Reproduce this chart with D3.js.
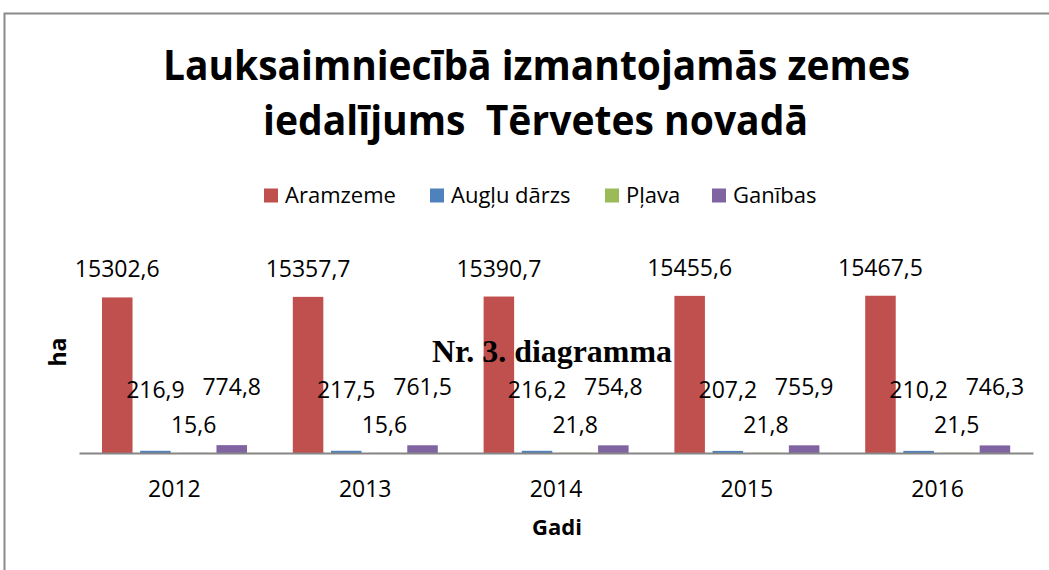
<!DOCTYPE html>
<html><head><meta charset="utf-8">
<script src="https://cdn.jsdelivr.net/npm/d3@7"></script>
<style>body{margin:0;background:#fff}svg{display:block}</style>
</head><body>
<script>
const years = ["2012","2013","2014","2015","2016"];
const seriesNames = ["Aramzeme","Augļu dārzs","Pļava","Ganības"];
const aramzeme = [15302.6,15357.7,15390.7,15455.6,15467.5];
const augluDarzs = [216.9,217.5,216.2,207.2,210.2];
const plava = [15.6,15.6,21.8,21.8,21.5];
const ganibas = [774.8,761.5,754.8,755.9,746.3];
const titleLines = ["Lauksaimniecībā izmantojamās zemes","iedalījums  Tērvetes novadā"];
const colors = ["#C0504D","#4F81BD","#9BBB59","#8064A2"];
const labelOffsets = [20, 53, 20, 50];

const W=1049,H=570;
const svg=d3.select("body").append("svg").attr("width",W).attr("height",H);
const font="'Open Sans', sans-serif";

// frame
svg.append("path").attr("d","M4.5,"+H+" V13.5 H"+W).attr("fill","none").attr("stroke","#8a8a8a").attr("stroke-width",2);

function fit(sel,target){
  const fs=parseFloat(sel.attr("font-size"));
  const w=sel.node().getComputedTextLength();
  sel.attr("font-size",fs*target/w);
}

// title
svg.append("text").attr("x",536.5).attr("y",80).attr("text-anchor","middle").attr("font-family",font).attr("font-weight","bold").attr("font-size",42)
  .attr("textLength",747).attr("lengthAdjust","spacingAndGlyphs").text(titleLines[0]);
svg.append("text").attr("x",535.5).attr("y",135).attr("text-anchor","middle").attr("font-family",font).attr("font-weight","bold").attr("font-size",42)
  .attr("textLength",545).attr("lengthAdjust","spacingAndGlyphs").style("white-space","pre").text(titleLines[1]);

// legend
const legX=[264,430,605,712];
seriesNames.forEach((n,i)=>{
  svg.append("rect").attr("x",legX[i]).attr("y",188.5).attr("width",14).attr("height",14).attr("fill",colors[i]);
  svg.append("text").attr("x",legX[i]+21).attr("y",203).attr("font-family",font).attr("font-size",22).attr("fill","#000").text(n);
});

const x=d3.scaleBand().domain(years).range([79,1033]).padding(0);
const inner=d3.scaleBand().domain(seriesNames).range([23,168]).paddingInner(0.2).paddingOuter(0);
const y=d3.scaleLinear().domain([0,18000]).range([453,270]);

const data=[aramzeme,augluDarzs,plava,ganibas];
const fmt=v=>d3.format(".1f")(v).replace(".",",");

data.forEach((arr,si)=>{
  svg.append("g").selectAll("rect").data(arr).join("rect")
    .attr("x",(d,i)=>x(years[i])+inner(seriesNames[si]))
    .attr("width",inner.bandwidth())
    .attr("y",d=>y(d))
    .attr("height",d=>y(0)-y(d))
    .attr("fill",colors[si]);
});

// axis
const axis=svg.append("g").attr("transform","translate(0,453)").call(d3.axisBottom(x).tickSize(0).tickPadding(28));
axis.select(".domain").attr("stroke","#868686").attr("stroke-width",2);
axis.selectAll("text").attr("font-family",font).attr("font-size",23).attr("fill","#000");

// labels
data.forEach((arr,si)=>{
  svg.append("g").selectAll("text").data(arr).join("text")
    .attr("x",(d,i)=>x(years[i])+inner(seriesNames[si])+inner.bandwidth()/2)
    .attr("y",d=>y(d)-labelOffsets[si])
    .attr("text-anchor","middle").attr("font-family",font).attr("font-size",23).attr("fill","#000")
    .text(d=>fmt(d));
});

// axis titles
svg.append("text").attr("x",557).attr("y",535).attr("text-anchor","middle").attr("font-family",font).attr("font-weight","bold").attr("font-size",22).text("Gadi");
svg.append("text").attr("transform","translate(66,352) rotate(-90)").attr("text-anchor","middle").attr("font-family",font).attr("font-weight","bold").attr("font-size",23).text("ha");

// caption
const cap=svg.append("text").attr("x",552).attr("y",362).attr("text-anchor","middle").attr("font-family","'Liberation Serif', serif").attr("font-weight","bold").attr("font-size",30).text("Nr. 3. diagramma");
fit(cap,240);
</script>
</body></html>
